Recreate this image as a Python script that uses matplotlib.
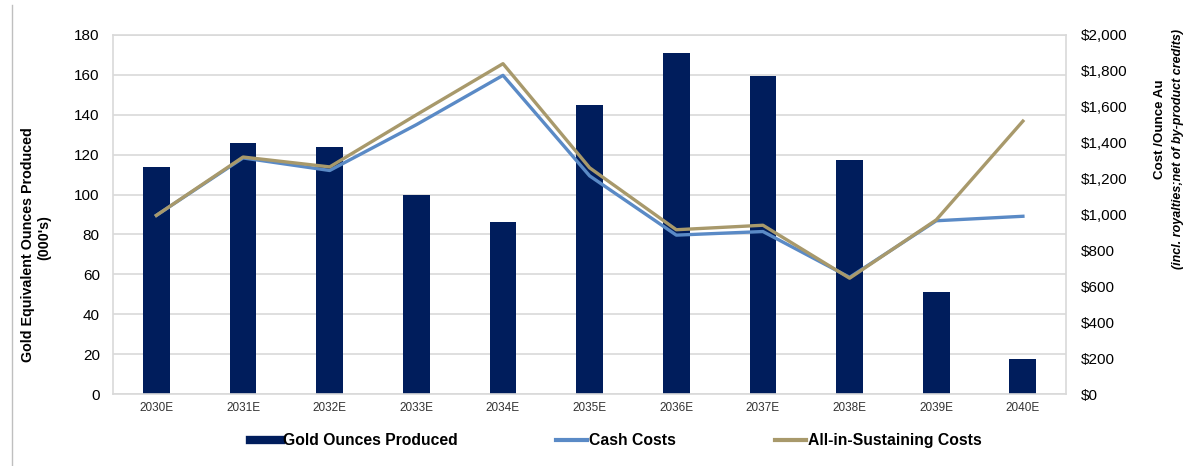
import numpy as np
import matplotlib.pyplot as plt
from matplotlib.lines import Line2D
from matplotlib.ticker import FuncFormatter

plt.rcParams['font.family'] = ['Liberation Sans', 'DejaVu Sans']

# production profile and unit costs by year
years = ['2030E', '2031E', '2032E', '2033E', '2034E', '2035E',
         '2036E', '2037E', '2038E', '2039E', '2040E']
gold_oz = [114, 126, 124, 100, 86, 145, 171, 159.5, 117.5, 51, 17.5]
cash_costs = [995, 1315, 1245, 1500, 1775, 1215, 885, 905, 650, 965, 990]
aisc = [995, 1320, 1265, 1555, 1840, 1260, 915, 940, 645, 970, 1520]

navy = '#001d5c'
blue = '#5a8ac6'
tan = '#a8996b'
grid_c = '#d9d9d9'

fig = plt.figure(figsize=(11.9, 4.66), dpi=100)
ax = fig.add_axes([0.095, 0.1545, 0.801, 0.7705])
x = np.arange(len(years))

ax.bar(x, gold_oz, width=0.31, color=navy, zorder=2)
ax.set_ylim(0, 180)
ax.set_yticks(np.arange(0, 181, 20))
ax.set_xlim(-0.5, len(years) - 0.5)
ax.set_xticks(x)
ax.set_xticklabels(years, fontsize=8.5, color='#333333')
ax.tick_params(axis='both', length=0)
ax.tick_params(axis='y', labelsize=11, pad=9.5)
ax.tick_params(axis='x', pad=6)
ax.grid(axis='y', color=grid_c, linewidth=1.2, zorder=0)
for s in ax.spines.values():
    s.set_color(grid_c)
    s.set_linewidth(1.2)

ax2 = ax.twinx()
ax2.plot(x, cash_costs, color=blue, linewidth=2.4, zorder=3)
ax2.plot(x, aisc, color=tan, linewidth=2.4, zorder=4)
ax2.set_ylim(0, 2000)
ax2.set_yticks(np.arange(0, 2001, 200))
ax2.yaxis.set_major_formatter(FuncFormatter(lambda v, p: f'${v:,.0f}'))
ax2.tick_params(axis='y', length=0, labelsize=11, pad=10.5)
for s in ax2.spines.values():
    s.set_visible(False)

# axis titles
fig.text(0.0235, 0.474, 'Gold Equivalent Ounces Produced', rotation=90,
         ha='center', va='center', fontsize=10.3, fontweight='bold')
fig.text(0.037, 0.49, "(000's)", rotation=90,
         ha='center', va='center', fontsize=10.3, fontweight='bold')
fig.text(0.9745, 0.723, 'Cost /Ounce Au', rotation=90,
         ha='center', va='center', fontsize=9.6, fontweight='bold')
fig.text(0.9895, 0.68, '(incl. royalties;net of by-product credits)', rotation=90,
         ha='center', va='center', fontsize=9, fontweight='bold', style='italic')

# thin frame line on the left edge
fig.add_artist(Line2D([0.0105, 0.0105], [0.0, 0.99], color='#bfbfbf',
                      linewidth=1, transform=fig.transFigure))

handles = [Line2D([0], [0], color=navy, linewidth=6),
           Line2D([0], [0], color=blue, linewidth=3),
           Line2D([0], [0], color=tan, linewidth=3)]
fig.legend(handles, ['Gold Ounces Produced', 'Cash Costs', 'All-in-Sustaining Costs'],
           loc='center left', bbox_to_anchor=(0.21, 0.054), ncol=3, frameon=False,
           handlelength=1.95, handletextpad=0.15, columnspacing=6.3,
           borderpad=0, borderaxespad=0,
           prop={'weight': 'bold', 'size': 11.3})

fig.savefig('out.png', dpi=100)
